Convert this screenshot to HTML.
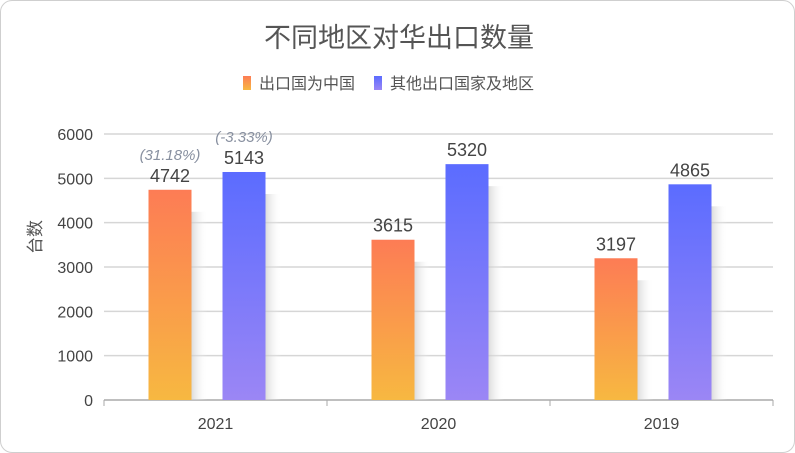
<!DOCTYPE html>
<html><head><meta charset="utf-8"><style>
body{margin:0;background:#fff;font-family:"Liberation Sans","Noto Sans CJK SC",sans-serif}
#wrap{position:relative;width:793px;height:451px;border:1px solid #cfcfcf;border-radius:12px;overflow:hidden}
</style></head><body>
<div id="wrap">
<svg id="c" width="795" height="453">
<defs>
<linearGradient id="go" x1="0" y1="0" x2="0" y2="1"><stop offset="0" stop-color="#fd7c55"/><stop offset="1" stop-color="#f7b841"/></linearGradient>
<linearGradient id="gb" x1="0" y1="0" x2="0" y2="1"><stop offset="0" stop-color="#5b6cff"/><stop offset="1" stop-color="#9b86f5"/></linearGradient>
<linearGradient id="gs" x1="0" y1="0" x2="1" y2="0"><stop offset="0" stop-color="#ccc" stop-opacity="0.7"/><stop offset="1" stop-color="#fff" stop-opacity="0"/></linearGradient>
</defs>
<text x="398" y="46" text-anchor="middle" font-size="27" fill="#555">不同地区对华出口数量</text>
<g>
<rect x="242" y="75" width="8" height="14" fill="url(#go)"/>
<text x="258" y="88" font-size="16" fill="#555">出口国为中国</text>
<rect x="373" y="75" width="8" height="14" fill="url(#gb)"/>
<text x="389" y="88" font-size="16" fill="#555">其他出口国家及地区</text>
</g>
<text transform="translate(40,236) rotate(-90)" text-anchor="middle" font-size="17" fill="#555">台数</text>
<g id="grid"></g><g id="bars"></g>
</svg>
</div>
<script>
const categories=["2021","2020","2019"];
const chinaValues=[4742,3615,3197];
const otherValues=[5143,5320,4865];
const yTicks=[0,1000,2000,3000,4000,5000,6000];
const chinaPct=["(31.18%)",null,null];
const otherPct=["(-3.33%)",null,null];
const NS="http://www.w3.org/2000/svg";
const x0=103,x1=772,yTop=133,yBot=399,yMax=6000;
const y=v=>yBot-(v/yMax)*(yBot-yTop);
const bw=(x1-x0)/categories.length;
const cx=i=>x0+bw*(i+0.5);
function mk(t,a,p){const e=document.createElementNS(NS,t);for(const k in a)e.setAttribute(k,a[k]);p.appendChild(e);return e;}
const grid=document.getElementById('grid'),bars=document.getElementById('bars');
yTicks.forEach(v=>{
 if(v>0){const l=mk('line',{x1:x0,x2:x1,y1:y(v),y2:y(v),stroke:'#d6d6d6','stroke-width':1.5},grid);
 
 }
 const t=mk('text',{x:92,y:y(v)+6,'text-anchor':'end','font-size':16,fill:'#444'},grid);t.textContent=v;
 
 
});
const ax=mk('line',{x1:x0,x2:x1,y1:yBot,y2:yBot,stroke:'#aaa','stroke-width':1.5},grid);


for(let i=0;i<=categories.length;i++){const tk=mk('line',{x1:x0+bw*i,x2:x0+bw*i,y1:yBot,y2:yBot+6,stroke:'#aaa'},grid);
 
 }
categories.forEach((c,i)=>{
 const t=mk('text',{x:cx(i),y:428,'text-anchor':'middle','font-size':16,fill:'#444'},grid);t.textContent=c;
 
 
 [[chinaValues,'url(#go)',-67,chinaPct,'china'],[otherValues,'url(#gb)',7,otherPct,'other']].forEach(([vals,fill,off,pct,nm])=>{
  const v=vals[i],bx=cx(i)+off,by=y(v);
  const s=mk('rect',{x:bx+43,y:by+22,width:16,height:yBot-by-22,fill:'url(#gs)'},bars);
  
  
  const r=mk('rect',{x:bx,y:by,width:43,height:yBot-by,fill:fill},bars);
  
  
  const l=mk('text',{x:bx+21.5,y:by-8,'text-anchor':'middle','font-size':18,fill:'#444'},bars);l.textContent=v;
  
  
  if(pct[i]){const p=mk('text',{x:bx+21.5,y:by-30,'text-anchor':'middle','font-size':15,'font-style':'italic',fill:'#8890a0'},bars);p.textContent=pct[i];
   
   }
 });
});
</script>
</body></html>
